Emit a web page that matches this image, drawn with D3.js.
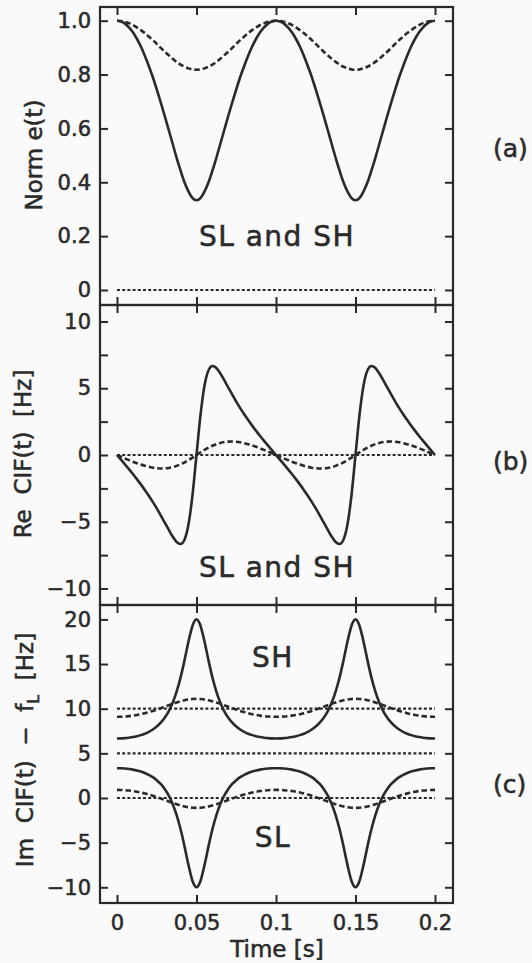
<!DOCTYPE html>
<html><head><meta charset="utf-8">
<script src="https://cdn.jsdelivr.net/npm/d3@7/dist/d3.min.js"></script>
<style>
html,body{margin:0;padding:0;background:#fafafa;}
svg{display:block;}
text{font-family:"DejaVu Sans",sans-serif;fill:#2a2a2a;stroke:#2a2a2a;stroke-width:0.55px;white-space:pre;}
</style></head><body>
<svg id="chart" width="532" height="963"></svg>
<script>
// ---- data ----
const times = [0,0.0025,0.005,0.0075,0.01,0.0125,0.015,0.0175,0.02,0.0225,0.025,0.0275,0.03,0.0325,0.035,0.0375,0.04,0.0425,0.045,0.0475,0.05,0.0525,0.055,0.0575,0.06,0.0625,0.065,0.0675,0.07,0.0725,0.075,0.0775,0.08,0.0825,0.085,0.0875,0.09,0.0925,0.095,0.0975,0.1,0.1025,0.105,0.1075,0.11,0.1125,0.115,0.1175,0.12,0.1225,0.125,0.1275,0.13,0.1325,0.135,0.1375,0.14,0.1425,0.145,0.1475,0.15,0.1525,0.155,0.1575,0.16,0.1625,0.165,0.1675,0.17,0.1725,0.175,0.1775,0.18,0.1825,0.185,0.1875,0.19,0.1925,0.195,0.1975,0.2];

const normSolid = [1.000,0.997,0.989,0.975,0.957,0.933,0.904,0.870,0.832,0.791,0.745,0.697,0.647,0.595,0.543,0.491,0.443,0.399,0.365,0.341,0.333,0.341,0.365,0.399,0.443,0.491,0.543,0.595,0.647,0.697,0.745,0.791,0.832,0.870,0.904,0.933,0.957,0.975,0.989,0.997,
1.000,0.997,0.989,0.975,0.957,0.933,0.904,0.870,0.832,0.791,0.745,0.697,0.647,0.595,0.543,0.491,0.443,0.399,0.365,0.341,0.333,0.341,0.365,0.399,0.443,0.491,0.543,0.595,0.647,0.697,0.745,0.791,0.832,0.870,0.904,0.933,0.957,0.975,0.989,0.997,1.000];

const normDashed = [1.000,0.999,0.996,0.991,0.984,0.975,0.965,0.954,0.941,0.928,0.914,0.899,0.885,0.872,0.859,0.847,0.837,0.829,0.823,0.819,0.818,0.819,0.823,0.829,0.837,0.847,0.859,0.872,0.885,0.899,0.914,0.928,0.941,0.954,0.965,0.975,0.984,0.991,0.996,0.999,
1.000,0.999,0.996,0.991,0.984,0.975,0.965,0.954,0.941,0.928,0.914,0.899,0.885,0.872,0.859,0.847,0.837,0.829,0.823,0.819,0.818,0.819,0.823,0.829,0.837,0.847,0.859,0.872,0.885,0.899,0.914,0.928,0.941,0.954,0.965,0.975,0.984,0.991,0.996,0.999,1.000];

const reSolid = [0,-0.350,-0.702,-1.060,-1.427,-1.807,-2.201,-2.614,-3.050,-3.511,-4.000,-4.516,-5.054,-5.597,-6.108,-6.512,-6.665,-6.323,-5.169,-2.982,0,2.982,5.169,6.323,6.665,6.512,6.108,5.597,5.054,4.516,4.000,3.511,3.050,2.614,2.201,1.807,1.427,1.060,0.702,0.350,
0,-0.350,-0.702,-1.060,-1.427,-1.807,-2.201,-2.614,-3.050,-3.511,-4.000,-4.516,-5.054,-5.597,-6.108,-6.512,-6.665,-6.323,-5.169,-2.982,0,2.982,5.169,6.323,6.665,6.512,6.108,5.597,5.054,4.516,4.000,3.511,3.050,2.614,2.201,1.807,1.427,1.060,0.702,0.350,0];

const reDashed = [0,-0.130,-0.257,-0.382,-0.502,-0.614,-0.718,-0.809,-0.887,-0.949,-0.990,-1.009,-1.003,-0.969,-0.907,-0.814,-0.693,-0.546,-0.377,-0.193,0,0.193,0.377,0.546,0.693,0.814,0.907,0.969,1.003,1.009,0.990,0.949,0.887,0.809,0.718,0.614,0.502,0.382,0.257,0.130,
0,-0.130,-0.257,-0.382,-0.502,-0.614,-0.718,-0.809,-0.887,-0.949,-0.990,-1.009,-1.003,-0.969,-0.907,-0.814,-0.693,-0.546,-0.377,-0.193,0,0.193,0.377,0.546,0.693,0.814,0.907,0.969,1.003,1.009,0.990,0.949,0.887,0.809,0.718,0.614,0.502,0.382,0.257,0.130,0];

const imSLSolid = [3.333,3.324,3.296,3.249,3.179,3.084,2.960,2.799,2.595,2.334,2.000,1.571,1.015,0.289,-0.663,-1.908,-3.504,-5.446,-7.544,-9.296,-10.000,-9.296,-7.544,-5.446,-3.504,-1.908,-0.663,0.289,1.015,1.571,2.000,2.334,2.595,2.799,2.960,3.084,3.179,3.249,3.296,3.324,
3.333,3.324,3.296,3.249,3.179,3.084,2.960,2.799,2.595,2.334,2.000,1.571,1.015,0.289,-0.663,-1.908,-3.504,-5.446,-7.544,-9.296,-10.000,-9.296,-7.544,-5.446,-3.504,-1.908,-0.663,0.289,1.015,1.571,2.000,2.334,2.595,2.799,2.960,3.084,3.179,3.249,3.296,3.324,3.333];

const imSHSolid = [6.667,6.676,6.704,6.751,6.821,6.916,7.040,7.201,7.405,7.666,8.000,8.429,8.985,9.711,10.663,11.908,13.504,15.446,17.544,19.296,20.000,19.296,17.544,15.446,13.504,11.908,10.663,9.711,8.985,8.429,8.000,7.666,7.405,7.201,7.040,6.916,6.821,6.751,6.704,6.676,
6.667,6.676,6.704,6.751,6.821,6.916,7.040,7.201,7.405,7.666,8.000,8.429,8.985,9.711,10.663,11.908,13.504,15.446,17.544,19.296,20.000,19.296,17.544,15.446,13.504,11.908,10.663,9.711,8.985,8.429,8.000,7.666,7.405,7.201,7.040,6.916,6.821,6.751,6.704,6.676,6.667];

const imSLDashed = [0.909,0.901,0.876,0.834,0.776,0.701,0.610,0.503,0.382,0.246,0.099,-0.058,-0.220,-0.385,-0.547,-0.699,-0.836,-0.951,-1.038,-1.093,-1.111,-1.093,-1.038,-0.951,-0.836,-0.699,-0.547,-0.385,-0.220,-0.058,0.099,0.246,0.382,0.503,0.610,0.701,0.776,0.834,0.876,0.901,
0.909,0.901,0.876,0.834,0.776,0.701,0.610,0.503,0.382,0.246,0.099,-0.058,-0.220,-0.385,-0.547,-0.699,-0.836,-0.951,-1.038,-1.093,-1.111,-1.093,-1.038,-0.951,-0.836,-0.699,-0.547,-0.385,-0.220,-0.058,0.099,0.246,0.382,0.503,0.610,0.701,0.776,0.834,0.876,0.901,0.909];

const imSHDashed = [9.091,9.099,9.124,9.166,9.224,9.299,9.390,9.497,9.618,9.754,9.901,10.058,10.220,10.385,10.547,10.699,10.836,10.951,11.038,11.093,11.111,11.093,11.038,10.951,10.836,10.699,10.547,10.385,10.220,10.058,9.901,9.754,9.618,9.497,9.390,9.299,9.224,9.166,9.124,9.099,
9.091,9.099,9.124,9.166,9.224,9.299,9.390,9.497,9.618,9.754,9.901,10.058,10.220,10.385,10.547,10.699,10.836,10.951,11.038,11.093,11.111,11.093,11.038,10.951,10.836,10.699,10.547,10.385,10.220,10.058,9.901,9.754,9.618,9.497,9.390,9.299,9.224,9.166,9.124,9.099,9.091];

// constant (dotted) reference curves
const constTimes = [0, 0.2];
const dottedA = [0, 0];
const dottedB = [0, 0];
const dottedC_SH = [10, 10];
const dottedC_mid = [5, 5];
const dottedC_SL = [0, 0];

// ticks and labels
const xTicks = [0, 0.05, 0.1, 0.15, 0.2];
const xTickLabels = ["0", "0.05", "0.1", "0.15", "0.2"];
const yTicksA = [0, 0.2, 0.4, 0.6, 0.8, 1.0];
const yTickLabelsA = ["0", "0.2", "0.4", "0.6", "0.8", "1.0"];
const yTicksB = [-10, -7.5, -5, -2.5, 0, 2.5, 5, 7.5, 10];
const yTickLabelsB = {"-10": "\u221210", "-5": "\u22125", "0": "0", "5": "5", "10": "10"};
const yTicksC = [-10, -5, 0, 5, 10, 15, 20];
const yTickLabelsC = ["\u221210", "\u22125", "0", "5", "10", "15", "20"];

// ---- drawing ----
const svg = d3.select("#chart");
const ink = "#2a2a2a";
const frameL = 100, frameR = 453;
const x = d3.scaleLinear().domain([0, 0.2]).range([117, 435]);

const panels = [
  {top: 7, bottom: 305, y: d3.scaleLinear().domain([0, 1]).range([290, 20.7]),
   yt: yTicksA, yfmt: d => yTickLabelsA[yTicksA.indexOf(d)]},
  {top: 305, bottom: 605, y: d3.scaleLinear().domain([0, 10]).range([455, 321.5]),
   yt: yTicksB, yfmt: d => yTickLabelsB[String(d)] || ""},
  {top: 605, bottom: 903, y: d3.scaleLinear().domain([0, 20]).range([798, 619.4]),
   yt: yTicksC, yfmt: d => yTickLabelsC[yTicksC.indexOf(d)]}
];

function styleAxis(g) {
  g.select(".domain").remove();
  g.selectAll(".tick line").attr("stroke", ink).attr("stroke-width", 2);
  g.selectAll(".tick text").attr("font-family", "DejaVu Sans").attr("font-size", 21).attr("fill", ink);
}

panels.forEach((p, pi) => {
  const g = svg.append("g");
  g.append("g").attr("transform", `translate(${frameL},0)`)
    .call(d3.axisLeft(p.y).tickValues(p.yt).tickSize(-8).tickPadding(9).tickFormat(p.yfmt))
    .call(styleAxis);
  g.append("g").attr("transform", `translate(${frameR},0)`)
    .call(d3.axisRight(p.y).tickValues(p.yt).tickSize(-8).tickFormat(""))
    .call(styleAxis);
  g.append("g").attr("transform", `translate(0,${p.top})`)
    .call(d3.axisTop(x).tickValues(xTicks).tickSize(-8).tickFormat(""))
    .call(styleAxis);
  const bottomAxis = d3.axisBottom(x).tickValues(xTicks).tickSize(-8).tickPadding(12)
    .tickFormat(pi === 2 ? (d => xTickLabels[xTicks.indexOf(d)]) : "");
  g.append("g").attr("transform", `translate(0,${p.bottom})`)
    .call(bottomAxis).call(styleAxis);
  g.append("rect").attr("x", frameL).attr("y", p.top)
    .attr("width", frameR - frameL).attr("height", p.bottom - p.top)
    .attr("fill", "none").attr("stroke", ink).attr("stroke-width", 2.2);
  p.g = g;
});

function drawLine(p, tArr, vals, dash, width) {
  const line = d3.line()
    .x((d, i) => x(tArr[i]))
    .y(d => p.y(d))
    .curve(d3.curveMonotoneX);
  p.g.append("path").datum(vals)
    .attr("d", line)
    .attr("fill", "none")
    .attr("stroke", ink)
    .attr("stroke-width", width)
    .attr("stroke-linejoin", "round")
    .attr("stroke-dasharray", dash);
}

const DASH = "5.5,3", DOT = "3,2.2";
drawLine(panels[0], times, normSolid, null, 2.6);
drawLine(panels[0], times, normDashed, DASH, 2.6);
drawLine(panels[0], constTimes, dottedA, DOT, 2.2);
drawLine(panels[1], times, reSolid, null, 2.6);
drawLine(panels[1], times, reDashed, DASH, 2.6);
drawLine(panels[1], constTimes, dottedB, DOT, 2.2);
drawLine(panels[2], times, imSHSolid, null, 2.6);
drawLine(panels[2], times, imSLSolid, null, 2.6);
drawLine(panels[2], times, imSHDashed, DASH, 2.6);
drawLine(panels[2], times, imSLDashed, DASH, 2.6);
drawLine(panels[2], constTimes, dottedC_SH, DOT, 2.2);
drawLine(panels[2], constTimes, dottedC_mid, DOT, 2.2);
drawLine(panels[2], constTimes, dottedC_SL, DOT, 2.2);

function label(txt, xx, yy, size, anchor, ls) {
  return svg.append("text").attr("x", xx).attr("y", yy)
    .attr("font-size", size).attr("text-anchor", anchor || "middle")
    .attr("letter-spacing", ls || 0).text(txt);
}
label("SL and SH", 277, 246, 28, "middle", 1.5);
label("SL and SH", 277, 577, 28, "middle", 1.5);
label("SH", 273, 667, 28, "middle", 1.5);
label("SL", 273, 847, 28, "middle", 1.5);

label("(a)", 493, 157, 25, "start");
label("(b)", 493, 470, 25, "start");
label("(c)", 493, 793, 25, "start");

label("Time [s]", 277, 957, 23, "middle");

svg.append("text").attr("transform", "translate(42,155) rotate(-90)")
  .attr("font-size", 23).attr("text-anchor", "middle").text("Norm e(t)");
svg.append("text").attr("transform", "translate(31,454) rotate(-90)")
  .attr("font-size", 23).attr("text-anchor", "middle").text("Re  CIF(t)  [Hz]");
const imT = svg.append("text").attr("transform", "translate(33,750) rotate(-90)")
  .attr("font-size", 23).attr("text-anchor", "middle");
imT.append("tspan").text("Im  CIF(t)  \u2212  f");
imT.append("tspan").attr("font-size", 16).attr("dy", 6).text("L");
imT.append("tspan").attr("dy", -6).text("  [Hz]");
</script>
</body></html>
